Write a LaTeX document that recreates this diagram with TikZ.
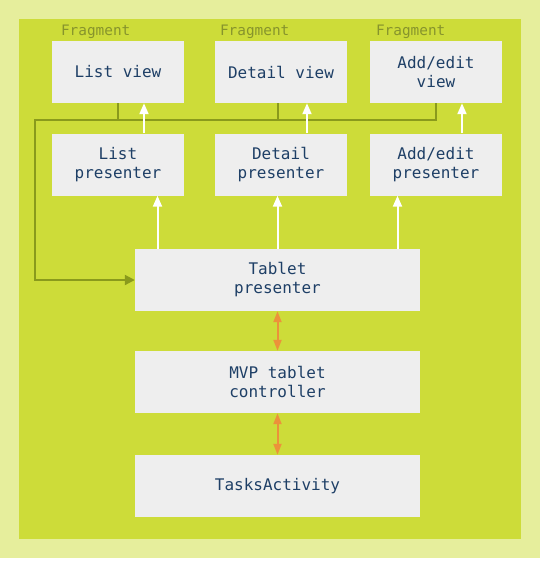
\documentclass[tikz,border=0pt]{standalone}
\usepackage{fontspec}
\setmonofont{DejaVu Sans Mono}
\usetikzlibrary{calc, arrows.meta}
\definecolor{limebg}{HTML}{E6EE9C}
\definecolor{limefill}{HTML}{CDDC39}
\definecolor{boxgrey}{HTML}{EEEEEE}
\definecolor{boxtext}{HTML}{1E3F66}
\definecolor{fragtext}{HTML}{87942C}
\definecolor{oliveline}{HTML}{8A9A1C}
\definecolor{arroworange}{HTML}{EC923A}
\begin{document}
\begin{tikzpicture}[x=1pt,y=-1pt,
  box/.style={fill=boxgrey, text=boxtext, minimum width=132pt, minimum height=62pt,
    inner sep=0pt, align=center, font=\ttfamily\fontsize{16}{19}\selectfont},
  widebox/.style={box, minimum width=285pt},
  frag/.style={text=fragtext, anchor=base west, inner sep=0pt,
    font=\ttfamily\fontsize{14.4}{16}\selectfont},
  whitearrow/.style={draw=white, line width=2pt, -{Triangle[length=11pt,width=9pt]}},
  oliveconn/.style={draw=oliveline, line width=2pt},
  orangearrow/.style={draw=arroworange, line width=2pt,
    {Triangle[length=11pt,width=8pt]}-{Triangle[length=11pt,width=8pt]}}]
% Background and frame
\useasboundingbox (0,0) rectangle (540,566);
\fill[limebg] (0,0) rectangle (540,558);
\fill[limefill] (19,19) rectangle (521,539);
% Views (fragments)
\node[box] (listv) at (118,72) {List view};
\node[box] (detv) at (281,72) {Detail view};
\node[box] (addv) at (436,72) {Add/edit\\view};
\node[frag] (listfrag) at ([shift={(9,-5)}]listv.north west) {Fragment};
\node[frag] (detfrag) at ([shift={(5,-5)}]detv.north west) {Fragment};
\node[frag] (addfrag) at ([shift={(6,-5)}]addv.north west) {Fragment};
% Presenters
\node[box] (listp) at (118,164.5) {List\\presenter};
\node[box] (detp) at (281,164.5) {Detail\\presenter};
\node[box] (addp) at (436,164.5) {Add/edit\\presenter};
% Tablet stack
\node[widebox] (tabp) at (277.5,280) {Tablet\\presenter};
\node[widebox] (ctrl) at (277.5,382) {MVP tablet\\controller};
\node[widebox] (tasks) at (277.5,486) {TasksActivity};
% Views report back to the tablet presenter
\coordinate (bus) at (35,120);
\draw[oliveconn, -{Triangle[length=10pt,width=10pt]}] (addv.south) |- (bus) |- (tabp.west);
\draw[oliveconn] (listv.south) -- (listv.south |- bus);
\draw[oliveconn] (tabp.north |- detv.south) -- (tabp.north |- bus);
% Presenters update their views
\foreach \n in {list,det,add}
  \draw[whitearrow] ([xshift=26pt]\n p.north) -- ([xshift=26pt]\n v.south);
% Tablet presenter drives the presenters
\coordinate (tl) at ([xshift=-120pt]tabp.north);
\coordinate (tr) at ([xshift=120pt]tabp.north);
\draw[whitearrow] (tl) -- (tl |- listp.south);
\draw[whitearrow] (tabp.north) -- (tabp.north |- detp.south);
\draw[whitearrow] (tr) -- (tr |- addp.south);
% Controller links
\draw[orangearrow] (tabp.south) -- (ctrl.north);
\draw[orangearrow] (ctrl.south) -- (tasks.north);
\end{tikzpicture}
\end{document}
